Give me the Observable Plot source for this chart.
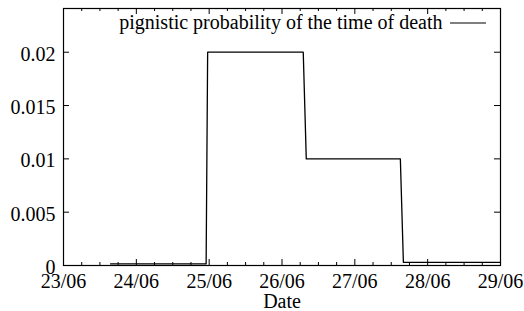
<!DOCTYPE html>
<html><head><meta charset="utf-8">
<script src="https://cdn.jsdelivr.net/npm/d3@7"></script>
<script src="https://cdn.jsdelivr.net/npm/@observablehq/plot@0.6"></script>
<style>body{margin:0;background:#fff} svg text{font-family:"Liberation Serif","Times New Roman",Times,"DejaVu Serif",serif !important}</style>
</head><body><div id="chart"></div>
<script>
// ---- data ----
const times = ["2008-06-23T15:30Z","2008-06-24T23:00Z","2008-06-24T23:30Z","2008-06-26T07:00Z","2008-06-26T08:00Z","2008-06-27T15:00Z","2008-06-27T16:00Z","2008-06-29T00:00Z"];
const values = [0.00015,0.00015,0.02,0.02,0.01,0.01,0.0003,0.0003];
const xTickDates = ["2008-06-23","2008-06-24","2008-06-25","2008-06-26","2008-06-27","2008-06-28","2008-06-29"];
const xTickLabels = ["23/06","24/06","25/06","26/06","27/06","28/06","29/06"];
const yTicks = [0,0.005,0.01,0.015,0.02];
const yTickLabels = ["0","0.005","0.01","0.015","0.02"];
const seriesLabel = "pignistic probability of the time of death";
const xLabel = "Date";

// ---- layout ----
const W = 524, H = 311, mt = 8, mr = 24, mb = 46, ml = 63;
const innerH = H - mt - mb, innerW = W - ml - mr;
const major = 6, minor = 3;

const data = times.map((t, i) => ({date: new Date(t), value: values[i]}));
const majorDates = xTickDates.map(d => new Date(d + "T00:00Z"));
const xDomain = [majorDates[0], majorDates[majorDates.length - 1]];
const minorDates = d3.utcHour.every(6).range(xDomain[0], xDomain[1]).filter(d => d.getUTCHours() !== 0);
const font = 20;
const ff = "'Liberation Serif', 'Times New Roman', Times, 'DejaVu Serif', serif";

const chart = Plot.plot({
  width: W, height: H,
  marginTop: mt, marginRight: mr, marginBottom: mb, marginLeft: ml,
  style: {fontFamily: ff, fontSize: font + "px", background: "#fff", color: "#000"},
  x: {type: "utc", domain: xDomain, axis: null},
  y: {domain: [0, 0.0241], axis: null},
  marks: [
    Plot.tickX(majorDates, {x: d => d, insetTop: innerH - major, stroke: "#000"}),
    Plot.tickX(majorDates, {x: d => d, insetBottom: innerH - major, stroke: "#000"}),
    Plot.tickX(minorDates, {x: d => d, insetTop: innerH - minor, stroke: "#000"}),
    Plot.tickX(minorDates, {x: d => d, insetBottom: innerH - minor, stroke: "#000"}),
    Plot.tickY(yTicks, {y: d => d, insetRight: innerW - major, stroke: "#000"}),
    Plot.tickY(yTicks, {y: d => d, insetLeft: innerW - major, stroke: "#000"}),
    Plot.text(yTicks, {y: d => d, text: (d, i) => yTickLabels[i], frameAnchor: "left", dx: -8, dy: 2, textAnchor: "end", lineAnchor: "middle", fontSize: font, fontFamily: ff}),
    Plot.text(majorDates, {x: d => d, text: (d, i) => xTickLabels[i], frameAnchor: "bottom", dy: 22, lineAnchor: "bottom", fontSize: font, fontFamily: ff}),
    Plot.text([xLabel], {text: d => d, frameAnchor: "bottom", dy: 42, lineAnchor: "bottom", fontSize: font, fontFamily: ff}),
    Plot.text([seriesLabel], {text: d => d, frameAnchor: "top-right", dx: -58, dy: 20, textAnchor: "end", lineAnchor: "bottom", fontSize: font, fontFamily: ff}),
    Plot.line(data, {x: "date", y: "value", stroke: "#000", strokeWidth: 1.3}),
    Plot.frame({stroke: "#000", strokeWidth: 1.2})
  ]
});
d3.select(chart).append("line")
  .attr("x1", W - mr - 50).attr("x2", W - mr - 14)
  .attr("y1", mt + 15).attr("y2", mt + 15)
  .attr("stroke", "#000").attr("stroke-width", 1.2);
document.getElementById("chart").appendChild(chart);
</script>
</body></html>
